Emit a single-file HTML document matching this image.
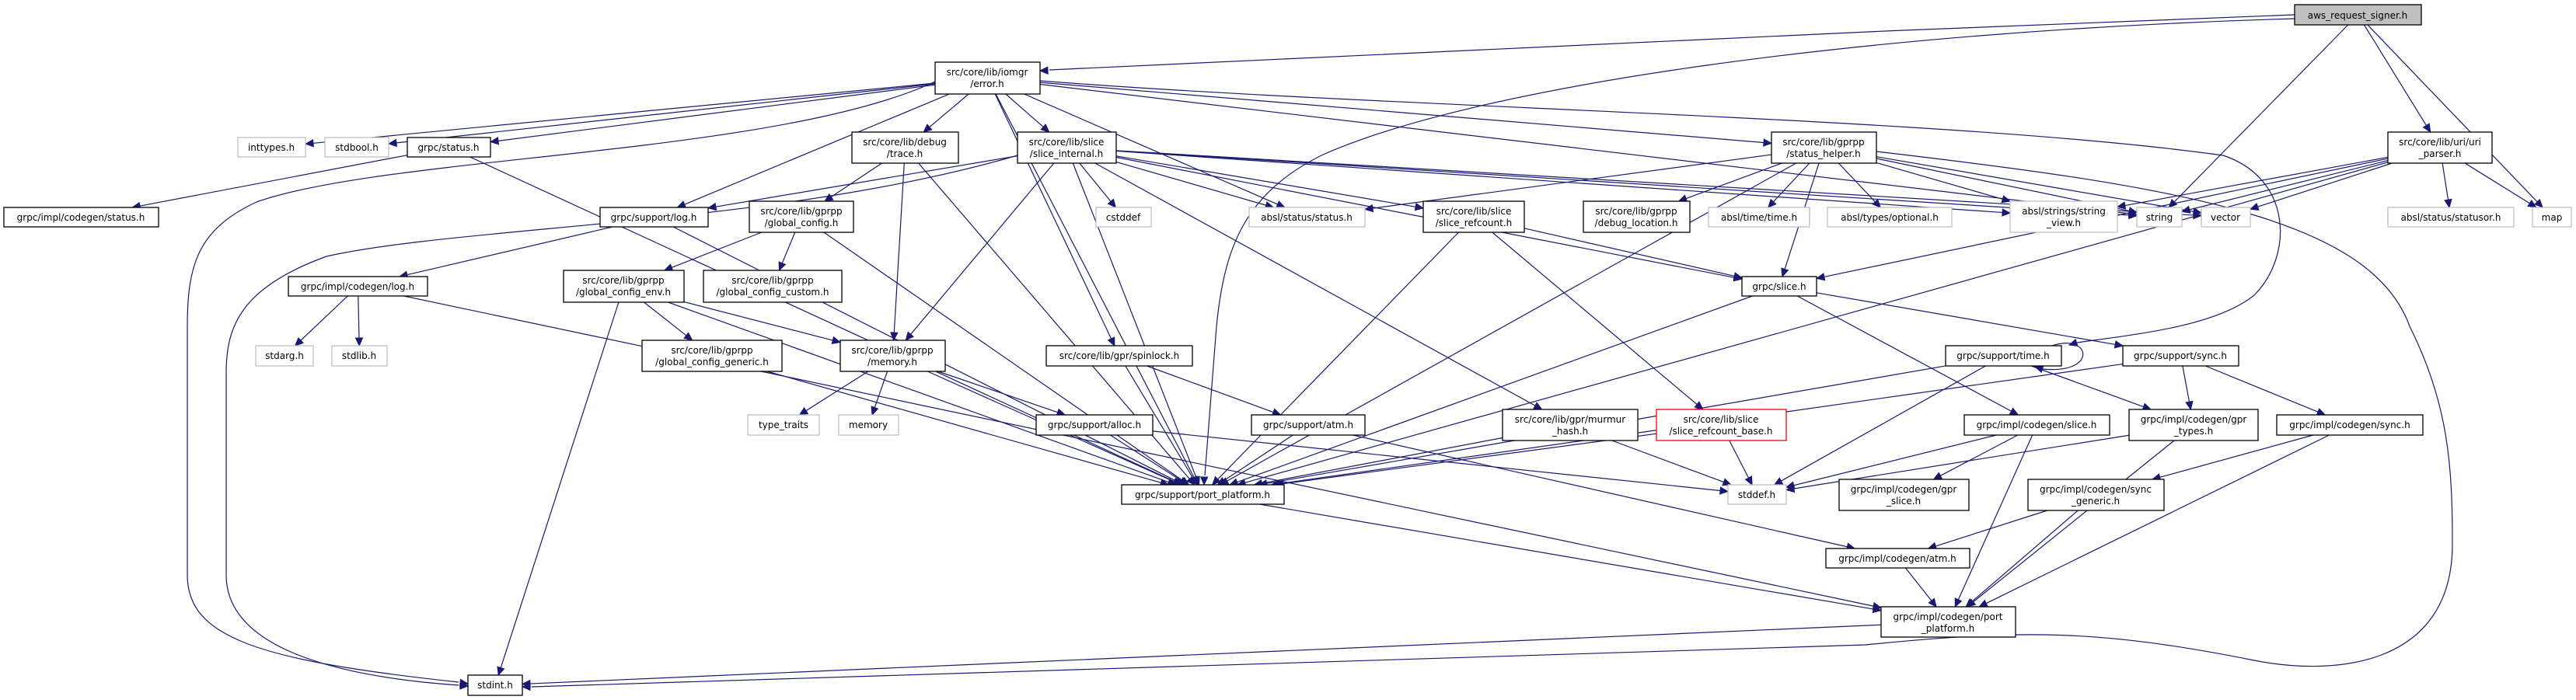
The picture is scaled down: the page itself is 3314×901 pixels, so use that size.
<!DOCTYPE html>
<html><head><meta charset="utf-8"><style>
html,body{margin:0;padding:0;background:#fff;}
svg{display:block;}
text{font-family:"DejaVu Sans","Liberation Sans",sans-serif;font-size:12px;fill:#000;text-anchor:middle;}
.n{fill:#fff;stroke:#000;stroke-width:1.3;}
.g{fill:#fff;stroke:#bfbfbf;stroke-width:1.3;}
.r{fill:#fff;stroke:#ff0000;stroke-width:1.3;}
.a{fill:#bfbfbf;stroke:#000;stroke-width:1.3;}
.e{fill:none;stroke:#191970;stroke-width:1.2;}
.h{fill:#191970;stroke:#191970;}
</style></head><body>
<svg id="s" width="3314" height="901" viewBox="0 0 3314 901" xmlns="http://www.w3.org/2000/svg">
<g id="edges"></g>
<g id="nodes">
<rect class="a" x="2952" y="6" width="163" height="26"/><text x="3033" y="24">aws_request_signer.h</text>
<rect class="n" x="1203" y="80" width="135" height="41"/><text x="1270" y="97">src/core/lib/iomgr</text><text x="1270" y="112">/error.h</text>
<rect class="g" x="306" y="177" width="87" height="25"/><text x="349" y="194">inttypes.h</text>
<rect class="g" x="418" y="177" width="82" height="25"/><text x="459" y="194">stdbool.h</text>
<rect class="n" x="524" y="177" width="107" height="25"/><text x="577" y="194">grpc/status.h</text>
<rect class="n" x="5" y="267" width="199" height="25"/><text x="104" y="284">grpc/impl/codegen/status.h</text>
<rect class="n" x="772" y="267" width="139" height="25"/><text x="841" y="284">grpc/support/log.h</text>
<rect class="n" x="371" y="356" width="179" height="25"/><text x="460" y="373">grpc/impl/codegen/log.h</text>
<rect class="n" x="725" y="348" width="155" height="41"/><text x="802" y="365">src/core/lib/gprpp</text><text x="802" y="380">/global_config_env.h</text>
<rect class="g" x="329" y="445" width="74" height="26"/><text x="366" y="462">stdarg.h</text>
<rect class="g" x="427" y="445" width="71" height="26"/><text x="462" y="462">stdlib.h</text>
<rect class="n" x="1096" y="170" width="137" height="40"/><text x="1164" y="187">src/core/lib/debug</text><text x="1164" y="202">/trace.h</text>
<rect class="n" x="1309" y="170" width="127" height="40"/><text x="1372" y="187">src/core/lib/slice</text><text x="1372" y="202">/slice_internal.h</text>
<rect class="n" x="964" y="259" width="134" height="40"/><text x="1031" y="276">src/core/lib/gprpp</text><text x="1031" y="291">/global_config.h</text>
<rect class="n" x="905" y="348" width="178" height="41"/><text x="994" y="365">src/core/lib/gprpp</text><text x="994" y="380">/global_config_custom.h</text>
<rect class="g" x="1410" y="267" width="71" height="25"/><text x="1445" y="284">cstddef</text>
<rect class="g" x="1607" y="267" width="149" height="25"/><text x="1681" y="284">absl/status/status.h</text>
<rect class="n" x="826" y="438" width="180" height="40"/><text x="916" y="455">src/core/lib/gprpp</text><text x="916" y="470">/global_config_generic.h</text>
<rect class="n" x="1081" y="438" width="135" height="40"/><text x="1148" y="455">src/core/lib/gprpp</text><text x="1148" y="470">/memory.h</text>
<rect class="n" x="1346" y="445" width="188" height="26"/><text x="1440" y="462">src/core/lib/gpr/spinlock.h</text>
<rect class="n" x="2279" y="170" width="135" height="40"/><text x="2346" y="187">src/core/lib/gprpp</text><text x="2346" y="202">/status_helper.h</text>
<rect class="n" x="1831" y="259" width="130" height="40"/><text x="1896" y="276">src/core/lib/slice</text><text x="1896" y="291">/slice_refcount.h</text>
<rect class="n" x="2037" y="259" width="137" height="40"/><text x="2105" y="276">src/core/lib/gprpp</text><text x="2105" y="291">/debug_location.h</text>
<rect class="g" x="2198" y="267" width="130" height="25"/><text x="2263" y="284">absl/time/time.h</text>
<rect class="g" x="2351" y="267" width="160" height="25"/><text x="2431" y="284">absl/types/optional.h</text>
<rect class="n" x="2241" y="356" width="96" height="25"/><text x="2289" y="373">grpc/slice.h</text>
<rect class="g" x="2586" y="259" width="138" height="40"/><text x="2655" y="276">absl/strings/string</text><text x="2655" y="291">_view.h</text>
<rect class="g" x="2749" y="267" width="58" height="25"/><text x="2778" y="284">string</text>
<rect class="g" x="2832" y="267" width="63" height="25"/><text x="2863" y="284">vector</text>
<rect class="n" x="3072" y="170" width="134" height="40"/><text x="3139" y="187">src/core/lib/uri/uri</text><text x="3139" y="202">_parser.h</text>
<rect class="g" x="3072" y="267" width="162" height="25"/><text x="3153" y="284">absl/status/statusor.h</text>
<rect class="g" x="3258" y="267" width="50" height="25"/><text x="3283" y="284">map</text>
<rect class="n" x="602" y="869" width="70" height="26"/><text x="637" y="886">stdint.h</text>
<rect class="g" x="962" y="534" width="92" height="26"/><text x="1008" y="551">type_traits</text>
<rect class="g" x="1079" y="534" width="77" height="26"/><text x="1117" y="551">memory</text>
<rect class="n" x="1333" y="534" width="150" height="26"/><text x="1408" y="551">grpc/support/alloc.h</text>
<rect class="n" x="1610" y="534" width="146" height="26"/><text x="1683" y="551">grpc/support/atm.h</text>
<rect class="n" x="1443" y="624" width="209" height="25"/><text x="1547" y="641">grpc/support/port_platform.h</text>
<rect class="n" x="1933" y="527" width="174" height="40"/><text x="2020" y="544">src/core/lib/gpr/murmur</text><text x="2020" y="559">_hash.h</text>
<rect class="r" x="2131" y="527" width="167" height="40"/><text x="2214" y="544">src/core/lib/slice</text><text x="2214" y="559">/slice_refcount_base.h</text>
<rect class="g" x="2223" y="624" width="75" height="25"/><text x="2260" y="641">stddef.h</text>
<rect class="n" x="2366" y="617" width="167" height="40"/><text x="2449" y="634">grpc/impl/codegen/gpr</text><text x="2449" y="649">_slice.h</text>
<rect class="n" x="2349" y="706" width="185" height="25"/><text x="2441" y="723">grpc/impl/codegen/atm.h</text>
<rect class="n" x="2420" y="781" width="173" height="39"/><text x="2506" y="798">grpc/impl/codegen/port</text><text x="2506" y="813">_platform.h</text>
<rect class="n" x="2503" y="445" width="149" height="26"/><text x="2577" y="462">grpc/support/time.h</text>
<rect class="n" x="2731" y="445" width="149" height="26"/><text x="2805" y="462">grpc/support/sync.h</text>
<rect class="n" x="2527" y="534" width="187" height="26"/><text x="2620" y="551">grpc/impl/codegen/slice.h</text>
<rect class="n" x="2739" y="527" width="166" height="40"/><text x="2822" y="544">grpc/impl/codegen/gpr</text><text x="2822" y="559">_types.h</text>
<rect class="n" x="2929" y="534" width="188" height="26"/><text x="3023" y="551">grpc/impl/codegen/sync.h</text>
<rect class="n" x="2609" y="617" width="175" height="40"/><text x="2696" y="634">grpc/impl/codegen/sync</text><text x="2696" y="649">_generic.h</text>
</g>
</svg>
<script>
var N={aws:[2952,6,3115,32],err:[1203,80,1338,121],inttypes:[306,177,393,202],stdbool:[418,177,500,202],gstatus:[524,177,631,202],cstatus:[5,267,204,292],log:[772,267,911,292],clog:[371,356,550,381],genv:[725,348,880,389],stdarg:[329,445,403,471],stdlib:[427,445,498,471],trace:[1096,170,1233,210],sint:[1309,170,1436,210],gcfg:[964,259,1098,299],gcust:[905,348,1083,389],cstddef:[1410,267,1481,292],astatus:[1607,267,1756,292],ggen:[826,438,1006,478],mem:[1081,438,1216,478],spin:[1346,445,1534,471],shelp:[2279,170,2414,210],sref:[1831,259,1961,299],dloc:[2037,259,2174,299],atime:[2198,267,2328,292],aopt:[2351,267,2511,292],gslice:[2241,356,2337,381],sview:[2586,259,2724,299],string:[2749,267,2807,292],vector:[2832,267,2895,292],uri:[3072,170,3206,210],statusor:[3072,267,3234,292],map:[3258,267,3308,292],stdint:[602,869,672,895],ttraits:[962,534,1054,560],memory:[1079,534,1156,560],alloc:[1333,534,1483,560],satm:[1610,534,1756,560],pp:[1443,624,1652,649],murmur:[1933,527,2107,567],srb:[2131,527,2298,567],stddef:[2223,624,2298,649],gprslice:[2366,617,2533,657],catm:[2349,706,2534,731],cpp:[2420,781,2593,820],time:[2503,445,2652,471],sync:[2731,445,2880,471],cslice:[2527,534,2714,560],gtypes:[2739,527,2905,567],csync:[2929,534,3117,560],sgen:[2609,617,2784,657]};
var E="aws string,aws uri,aws map,err inttypes,err stdbool,err gstatus,err log,err trace,err sint,err spin,err astatus,err shelp,err string,err pp,gstatus cstatus,gstatus pp,log clog,log pp,clog stdarg,clog stdlib,clog cpp,trace gcfg,trace mem,trace pp,gcfg genv,gcfg gcust,gcfg pp,genv ggen,genv mem,genv pp,genv stdint,ggen pp,mem ttraits,mem memory,mem alloc,mem pp,sint log,sint cstddef,sint mem,sint pp,sint murmur,sint sref,sint astatus,sint sview,sint string,sint gslice,sint vector,spin pp,spin satm,alloc pp,alloc stddef,satm pp,satm catm,sref gslice,sref srb,sref pp,murmur pp,murmur stddef,srb pp,srb stddef,shelp dloc,shelp atime,shelp aopt,shelp astatus,shelp sview,shelp string,shelp vector,shelp gslice,shelp pp,gslice pp,gslice cslice,gslice sync,time pp,time stddef,time gtypes,sync gtypes,sync csync,sync pp,cslice gprslice,cslice stddef,cslice cpp,gtypes stddef,gtypes cpp,csync sgen,csync cpp,sgen catm,sgen cpp,catm cpp,pp cpp,cpp stdint,uri sview,uri string,uri vector,uri statusor,uri map,uri pp,uri gslice".split(",");
var g=document.getElementById("edges"),ns="http://www.w3.org/2000/svg";
function clip(r,cx,cy,dx,dy){var hw=(r[2]-r[0])/2,hh=(r[3]-r[1])/2;var t=Math.min(dx?hw/Math.abs(dx):1e9,dy?hh/Math.abs(dy):1e9);return [cx+dx*t,cy+dy*t];}
function arrow(x,y,ux,uy){var p=document.createElementNS(ns,"polygon");var L=10,W=4.5;var bx=x-ux*L,by=y-uy*L;p.setAttribute("points",x+","+y+" "+(bx-uy*W)+","+(by+ux*W)+" "+(bx+uy*W)+","+(by-ux*W));p.setAttribute("class","h");g.appendChild(p);}
function path(d){var p=document.createElementNS(ns,"path");p.setAttribute("d",d);p.setAttribute("class","e");g.appendChild(p);}
E.forEach(function(s){var a=s.split(" "),A=N[a[0]],B=N[a[1]];var ax=(A[0]+A[2])/2,ay=(A[1]+A[3])/2,bx=(B[0]+B[2])/2,by=(B[1]+B[3])/2;var dx=bx-ax,dy=by-ay,l=Math.hypot(dx,dy),ux=dx/l,uy=dy/l;var p1=clip(A,ax,ay,ux,uy),p2=clip(B,bx,by,-ux,-uy);path("M"+p1[0]+","+p1[1]+"L"+(p2[0]-ux*9)+","+(p2[1]-uy*9));arrow(p2[0],p2[1],ux,uy);});
var C=[["M2952,19 C2400,40 1700,70 1350,90",1338,91,-1,0.03],
["M2952,24 C2400,40 1900,110 1700,200 C1600,250 1575,320 1565,420 L1550,612",1549,624,-0.02,1],
["M1203,105 C1000,200 500,200 330,260 C255,295 241,340 241,420 L241,740 C241,820 330,850 590,878",602,880,1,0.1],
["M1309,200 C1000,290 600,290 420,330 C310,370 291,420 291,480 L291,740 C291,830 420,870 590,882",602,883,1,0.05],
["M2414,195 C2800,240 3050,280 3100,420 C3150,520 3155,600 3155,700 C3155,860 3000,870 2900,850 C2700,810 2600,810 2400,830 L684,884",672,884,-1,0],
["M1338,104 C1800,140 2500,150 2860,200 C2950,230 2950,330 2900,380 C2850,420 2750,430 2672,441",2662,444,-0.95,0.3],
["M2640,445 C2690,428 2700,482 2628,475",2618,472,-0.95,-0.3]];
C.forEach(function(c){path(c[0]);arrow(c[1],c[2],c[3],c[4]);});
</script>
</body></html>
